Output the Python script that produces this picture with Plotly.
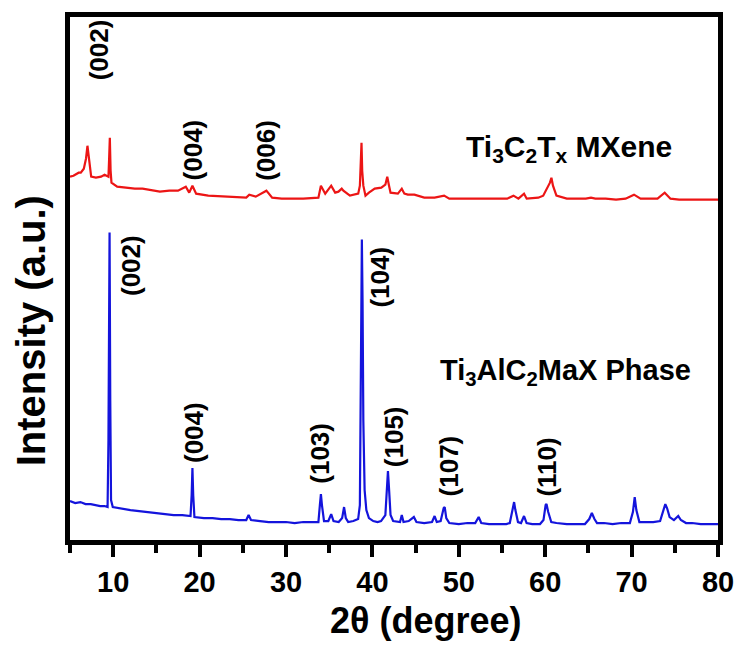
import plotly.graph_objects as go

# ---- data (2θ in degrees, intensity in arbitrary units) ----
max_2theta = [5.0, 5.6, 6.2, 6.8, 7.4, 7.9, 8.5, 9.0, 9.35, 9.45, 9.5, 9.58, 9.66, 9.75, 9.95,
              10.5, 11.2, 12.0, 13.0, 14.0, 15.0, 16.0, 17.0, 18.0, 18.95, 19.08, 19.17, 19.26, 19.4,
              20.5, 21.5, 22.5, 23.5, 24.5, 25.4, 25.67, 25.95, 27.0, 28.0, 29.0, 30.0, 31.0, 32.0,
              33.0, 33.75, 33.92, 34.04, 34.16, 34.4, 34.9, 35.23, 35.5, 36.1, 36.5, 36.72, 36.92,
              37.2, 37.8, 38.35, 38.55, 38.62, 38.68, 38.78, 38.86, 38.95, 39.1, 39.3, 39.6, 40.1,
              40.6, 41.0, 41.5, 41.7, 41.8, 41.9, 42.1, 42.4, 42.9, 43.2, 43.4, 43.6, 44.2, 44.6,
              44.8, 45.1, 46.0, 46.9, 47.2, 47.45, 47.9, 48.25, 48.37, 48.55, 48.9, 50.0, 51.0,
              51.9, 52.3, 52.6, 53.5, 54.5, 55.5, 55.9, 56.25, 56.4, 56.55, 56.85, 57.2, 57.55,
              57.85, 58.5, 59.4, 59.8, 60.05, 60.15, 60.35, 60.7, 61.3, 62.5, 63.5, 64.6, 65.1,
              65.4, 65.7, 66.0, 66.8, 67.8, 68.8, 69.8, 70.15, 70.36, 70.55, 70.9, 71.5, 72.5,
              73.3, 73.65, 73.9, 74.1, 74.4, 74.9, 75.4, 75.7, 76.3, 77.0, 78.0, 79.0, 80.0]
max_intensity = [39, 37, 38, 36, 36, 35, 34, 34, 33, 100, 180, 308, 140, 40, 33,
                 32, 31, 30, 29, 28, 27, 26, 25, 25, 24, 45, 72, 45, 23,
                 22, 22, 21, 21, 20, 20, 25, 20, 19, 18, 18, 18, 17, 18,
                 18, 18, 35, 46, 35, 19, 19, 26, 19, 18, 22, 33, 22,
                 18, 19, 21, 35, 140, 245, 301, 240, 120, 50, 30, 22, 19,
                 18, 19, 25, 60, 69, 55, 25, 19, 18, 18, 25, 18, 19, 22,
                 23, 18, 17, 18, 24, 18, 19, 32, 33, 22, 17, 16, 17,
                 17, 23, 17, 16, 16, 16, 17, 32, 38, 30, 18, 17, 24,
                 17, 16, 16, 20, 35, 36, 28, 18, 17, 16, 16, 16, 21,
                 27, 21, 17, 17, 16, 17, 17, 28, 43, 30, 18, 18, 18,
                 19, 28, 36, 32, 23, 20, 24, 20, 17, 17, 16, 16, 16]

mxene_2theta = [5.0, 5.4, 6.0, 6.25, 6.6, 6.85, 7.02, 7.2, 7.45, 8.0, 8.6, 9.0, 9.45, 9.52, 9.61,
                9.7, 9.8, 10.46, 11.5, 12.5, 13.4, 14.0, 15.4, 16.5, 17.5, 18.4, 18.8, 19.17, 19.6,
                21.0, 23.1, 25.4, 25.75, 26.5, 27.73, 28.4, 29.5, 30.7, 32.0, 33.75, 34.04, 34.54,
                35.23, 35.69, 36.07, 36.45, 36.64, 37.4, 38.36, 38.55, 38.65, 38.74, 38.82, 38.95,
                39.2, 39.6, 40.27, 41.03, 41.5, 41.72, 41.9, 42.1, 42.95, 43.4, 43.7, 44.1, 44.86,
                46.0, 47.2, 48.3, 48.9, 50.5, 52.0, 53.5, 55.6, 56.33, 56.9, 57.55, 57.86, 59.2,
                59.77, 60.55, 60.72, 60.9, 61.3, 62.5, 63.6, 64.7, 65.3, 65.8, 67.0, 68.2, 69.3,
                70.28, 71.04, 72.0, 73.0, 73.83, 74.5, 75.5, 76.5, 77.5, 78.5, 80.0]
mxene_intensity = [364, 365, 368, 368, 372, 382, 395, 380, 364, 363, 364, 366, 364, 380, 403,
                   370, 358, 354, 353, 352, 352, 351, 349, 350, 350, 354, 348, 355, 347,
                   345, 344, 343, 346, 344, 350, 343, 342, 342, 342, 343, 355, 347,
                   355, 348, 349, 352, 350, 345, 347, 355, 385, 398, 370, 355,
                   345, 348, 352, 353, 356, 364, 356, 348, 347, 352, 347, 346, 346,
                   343, 343, 345, 342, 342, 342, 342, 342, 345, 342, 347, 342, 343,
                   345, 358, 363, 355, 345, 342, 342, 342, 343, 342, 342, 341, 342,
                   346, 342, 342, 342, 348, 342, 341, 341, 341, 341, 341]

x_ticks = [10, 20, 30, 40, 50, 60, 70, 80]

# peak labels: (text, 2θ position, intensity position)
mxene_labels = [("(002)", 8.4, 491), ("(004)", 19.2, 391), ("(006)", 27.7, 390)]
max_labels = [("(002)", 12.0, 275), ("(004)", 19.33, 108), ("(103)", 34.0, 87),
              ("(104)", 40.77, 263), ("(105)", 42.5, 103), ("(107)", 48.9, 74),
              ("(110)", 60.26, 73)]

FONT = "Liberation Sans"

fig = go.Figure()
fig.add_trace(go.Scatter(x=mxene_2theta, y=mxene_intensity, mode="lines",
                         line=dict(color="#ec1515", width=2.2), showlegend=False))
fig.add_trace(go.Scatter(x=max_2theta, y=max_intensity, mode="lines",
                         line=dict(color="#1414dc", width=2.2), showlegend=False))

annotations = []
for txt, xv, yv in mxene_labels + max_labels:
    annotations.append(dict(text=txt, x=xv, y=yv, xref="x", yref="y", showarrow=False,
                            textangle=-90, xanchor="center", yanchor="middle",
                            font=dict(family=FONT, size=26, color="black", weight="bold")))
annotations.append(dict(text="Ti<sub>3</sub>C<sub>2</sub>T<sub>x</sub> MXene", x=62.7, y=392,
                        xref="x", yref="y", showarrow=False, xanchor="center", yanchor="middle",
                        font=dict(family=FONT, size=30, color="black", weight="bold")))
annotations.append(dict(text="Ti<sub>3</sub>AlC<sub>2</sub>MaX Phase", x=62.3, y=168,
                        xref="x", yref="y", showarrow=False, xanchor="center", yanchor="middle",
                        font=dict(family=FONT, size=29, color="black", weight="bold")))
# axis titles
annotations.append(dict(text="2θ (degree)", x=0.55, y=-0.153, xref="paper", yref="paper",
                        showarrow=False, xanchor="center", yanchor="middle",
                        font=dict(family=FONT, size=36, color="black", weight="bold")))
annotations.append(dict(text="Intensity (a.u.)", x=-0.061, y=0.40, xref="paper", yref="paper",
                        showarrow=False, textangle=-90, xanchor="center", yanchor="middle",
                        font=dict(family=FONT, size=40, color="black", weight="bold")))

fig.update_layout(
    width=746, height=648,
    margin=dict(l=70, r=23, t=16, b=108),
    paper_bgcolor="white", plot_bgcolor="white",
    annotations=annotations,
    xaxis=dict(range=[5, 80], tickvals=x_ticks, ticktext=[str(t) for t in x_ticks],
               showline=True, linecolor="black", linewidth=5, mirror=True,
               ticks="outside", ticklen=12, tickwidth=4, tickcolor="black",
               minor=dict(dtick=5, tick0=5, ticks="outside", ticklen=8, tickwidth=4, tickcolor="black"),
               showgrid=False, zeroline=False,
               tickfont=dict(family=FONT, size=29, color="black", weight="bold")),
    yaxis=dict(range=[0, 524], showline=True, linecolor="black", linewidth=5, mirror=True,
               showticklabels=False, ticks="", showgrid=False, zeroline=False),
)

fig.write_html("out.html")
